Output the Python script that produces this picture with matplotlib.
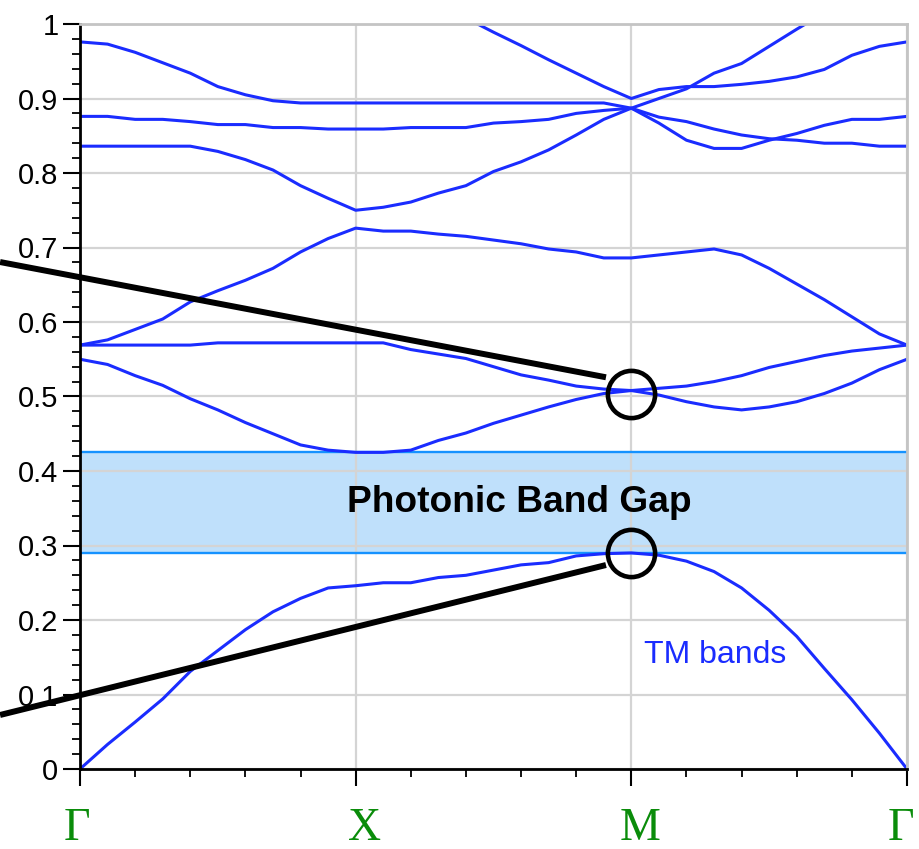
import numpy as np
import matplotlib
matplotlib.use("Agg")
import matplotlib.pyplot as plt
from matplotlib.ticker import FixedLocator, MultipleLocator, FuncFormatter, NullFormatter

# Path through the Brillouin zone: Γ -> X -> M -> Γ, 10 samples per segment
k_labels = ["Γ", "X", "M", "Γ"]
k_label_shift_pt = [-2.0, 6.5, 6.5, -4.5]
steps_per_segment = 10
nan = np.nan

# TM band frequencies (normalised, ωa/2πc)
band_1 = [0.000, 0.033, 0.063, 0.094, 0.131, 0.159, 0.187, 0.211, 0.229, 0.243, 0.246,
          0.250, 0.250, 0.257, 0.260, 0.267, 0.274, 0.277, 0.286, 0.289, 0.290,
          0.287, 0.279, 0.265, 0.243, 0.213, 0.178, 0.135, 0.093, 0.048, 0.000]
band_2 = [0.550, 0.543, 0.528, 0.515, 0.497, 0.482, 0.465, 0.450, 0.435, 0.428, 0.425,
          0.425, 0.428, 0.441, 0.451, 0.464, 0.475, 0.486, 0.496, 0.504, 0.508,
          0.502, 0.493, 0.486, 0.482, 0.486, 0.493, 0.504, 0.518, 0.536, 0.550]
band_3 = [0.569, 0.569, 0.569, 0.569, 0.569, 0.572, 0.572, 0.572, 0.572, 0.572, 0.572,
          0.572, 0.563, 0.557, 0.551, 0.540, 0.529, 0.522, 0.514, 0.510, 0.508,
          0.511, 0.514, 0.520, 0.528, 0.539, 0.547, 0.555, 0.561, 0.565, 0.569]
band_4 = [0.569, 0.576, 0.590, 0.604, 0.627, 0.642, 0.656, 0.672, 0.694, 0.712, 0.726,
          0.722, 0.722, 0.718, 0.715, 0.710, 0.705, 0.698, 0.694, 0.686, 0.686,
          0.690, 0.694, 0.698, 0.690, 0.672, 0.651, 0.630, 0.607, 0.584, 0.569]
band_5 = [0.836, 0.836, 0.836, 0.836, 0.836, 0.829, 0.818, 0.804, 0.783, 0.766, 0.750,
          0.754, 0.761, 0.773, 0.783, 0.802, 0.815, 0.831, 0.851, 0.872, 0.887,
          0.900, 0.913, 0.934, 0.947, 0.970, 0.993, 1.015, nan, nan, nan]
band_6 = [0.876, 0.876, 0.872, 0.872, 0.869, 0.865, 0.865, 0.861, 0.861, 0.859, 0.859,
          0.859, 0.861, 0.861, 0.861, 0.867, 0.869, 0.872, 0.880, 0.884, 0.887,
          0.867, 0.844, 0.833, 0.833, 0.844, 0.853, 0.864, 0.872, 0.872, 0.876]
band_7 = [0.976, 0.973, 0.962, 0.948, 0.934, 0.916, 0.905, 0.897, 0.894, 0.894, 0.894,
          0.894, 0.894, 0.894, 0.894, 0.894, 0.894, 0.894, 0.894, 0.894, 0.887,
          0.875, 0.869, 0.859, 0.851, 0.846, 0.844, 0.840, 0.840, 0.836, 0.836]
band_8 = [nan, nan, nan, nan, nan, nan, nan, nan, nan, nan, nan,
          nan, nan, nan, 1.008, 0.989, 0.971, 0.952, 0.934, 0.916, 0.900,
          0.912, 0.916, 0.916, 0.919, 0.923, 0.929, 0.939, 0.958, 0.970, 0.976]
bands = [band_1, band_2, band_3, band_4, band_5, band_6, band_7, band_8]

# Photonic band gap edges
gap_low = 0.290
gap_high = 0.425

# Highlighted degeneracies at M and the pointer lines leading to them
circle_points = [(2.0, 0.503), (2.0, 0.290)]
pointer_lines = [((-0.290, 0.6805), (1.908, 0.5258)),
                 ((-0.290, 0.0725), (1.908, 0.2738))]

band_color = "#1a2cff"
k = np.arange(len(band_1)) / steps_per_segment

fig = plt.figure(figsize=(9.2, 8.49), dpi=100)
ax = fig.add_axes([80 / 920, 80 / 849, 827 / 920, 745 / 849])

# Band gap shading and edges
ax.axhspan(gap_low, gap_high, facecolor="#bfe0fb", edgecolor="none", zorder=0.3)
for edge in (gap_low, gap_high):
    ax.axhline(edge, color="#1592ff", lw=1.7, zorder=1)

for b in bands:
    ax.plot(k, b, color=band_color, lw=2.2, zorder=2, solid_joinstyle="round")

ax.set_xlim(0, 3)
ax.set_ylim(0, 1)

# Grid
ax.set_axisbelow(True)
ax.grid(True, which="major", color="#d4d4d4", lw=1.6)

# Ticks
ax.xaxis.set_major_locator(FixedLocator([0, 1, 2, 3]))
ax.xaxis.set_minor_locator(MultipleLocator(0.2))
ax.xaxis.set_major_formatter(NullFormatter())
ax.yaxis.set_major_locator(MultipleLocator(0.1))
ax.yaxis.set_minor_locator(MultipleLocator(0.02))
ax.yaxis.set_major_formatter(FuncFormatter(lambda v, p: f"{v:g}"))

ax.tick_params(which="major", direction="out", length=12.5, width=1.5, color="black")
ax.tick_params(which="minor", direction="out", length=6, width=1.3, color="black")
ax.tick_params(axis="y", which="major", labelsize=21, pad=3)
for lab in ax.get_yticklabels():
    lab.set_fontfamily("Liberation Sans")

# High-symmetry point labels below the axis
for pos, name, dx in zip([0, 1, 2, 3], k_labels, k_label_shift_pt):
    ax.annotate(name, xy=(pos, 0), xycoords=("data", "axes fraction"),
                xytext=(dx, -51), textcoords="offset points", ha="center", va="baseline",
                fontsize=33, family="Liberation Serif", color="#0a8c0a",
                annotation_clip=False)

for side in ("left", "bottom"):
    ax.spines[side].set_color("black")
    ax.spines[side].set_linewidth(2)
for side in ("top", "right"):
    ax.spines[side].set_color("#c4c4c4")
    ax.spines[side].set_linewidth(2)

# Annotations
ax.text(1.592, (gap_low + gap_high) / 2, "Photonic Band Gap", ha="center", va="center",
        fontsize=26.7, fontweight="bold", family="Liberation Sans", color="black", zorder=5)
ax.text(2.305, 0.153, "TM bands", ha="center", va="center", fontsize=23,
        family="Liberation Sans", color=band_color, zorder=5)

for (x0, y0), (x1, y1) in pointer_lines:
    ax.plot([x0, x1], [y0, y1], color="black", lw=4.3, clip_on=False,
            solid_capstyle="butt", zorder=6)
for cx, cy in circle_points:
    ax.plot([cx], [cy], marker="o", ms=34, mfc="none", mec="black", mew=3.3,
            clip_on=False, zorder=7)

fig.savefig("out.png", dpi=100)
